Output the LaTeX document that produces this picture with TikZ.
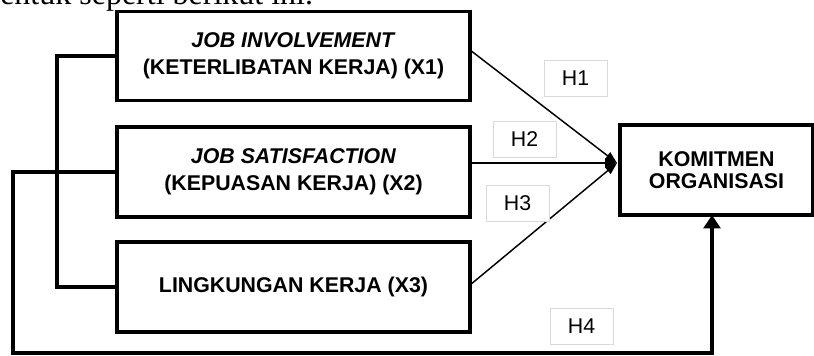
\documentclass[tikz,border=0pt]{standalone}
\usepackage{fontspec}
\setmainfont{Liberation Sans}
\newfontfamily\serifface{Liberation Serif}
\usetikzlibrary{arrows.meta}
\begin{document}
\begin{tikzpicture}[x=0.75pt,y=-0.75pt,
  varbox/.style={draw, line width=2.5pt, minimum width=353*0.75pt,
    minimum height=89*0.75pt, inner sep=0pt, outer sep=0pt, align=center,
    font=\fontsize{16}{20}\selectfont\bfseries},
  hlabel/.style={draw=gray!30, line width=0.6pt, fill=white,
    minimum width=63*0.75pt, minimum height=36*0.75pt, inner sep=0pt,
    font=\fontsize{16}{16}\selectfont},
  harrow/.style={line width=1.1pt, -{Triangle[length=9pt,width=6.5pt]}},
  bracket/.style={line width=3.5pt},
]
\useasboundingbox (0,0) rectangle (814,356);
\clip (0,0) rectangle (814,356);

\node[anchor=base west, inner sep=0pt, font=\serifface\fontsize{24}{24}\selectfont] (intro) at (0,5) {entuk seperti berikut ini.};

\node[varbox] (x1) at (293.5,56) {\textit{JOB INVOLVEMENT}\\(KETERLIBATAN KERJA) (X1)};
\node[varbox, minimum height=90*0.75pt] (x2) at (293.5,172) {\textit{JOB SATISFACTION}\\(KEPUASAN KERJA) (X2)};
\node[varbox, minimum height=90*0.75pt] (x3) at (293.5,287) {LINGKUNGAN KERJA (X3)};
\node[varbox, minimum width=193*0.75pt, minimum height=90*0.75pt,
  font=\fontsize{16}{16}\selectfont\bfseries] (k) at (716.5,170) {KOMITMEN\\ORGANISASI};

\coordinate (tip) at ([xshift=-2.25pt,yshift=5.25pt]k.west);
\draw[harrow] ([yshift=4.5pt]x1.east) -- (tip);
\draw[harrow] (x2.east |- tip) -- (tip);
\draw[harrow] ([yshift=1.5pt]x3.east) -- (tip);

\draw[bracket] (x1.west) -- ++(-60,0) |- (x3.west);

\coordinate (c3) at (13,353);
\coordinate (c4) at (712,353);
\draw[bracket, -{Triangle[length=10pt,width=12.5pt]}] (x2.west) -| (c3) -- (c4) -- (c4 |- k.south);

\node[hlabel] (h1) at (575.5,78.5) {H1};
\node[hlabel] (h2) at (524.5,139.5) {H2};
\node[hlabel] (h3) at (517.5,203.5) {H3};
\node[hlabel] (h4) at (581.5,326.5) {H4};
\end{tikzpicture}
\end{document}
